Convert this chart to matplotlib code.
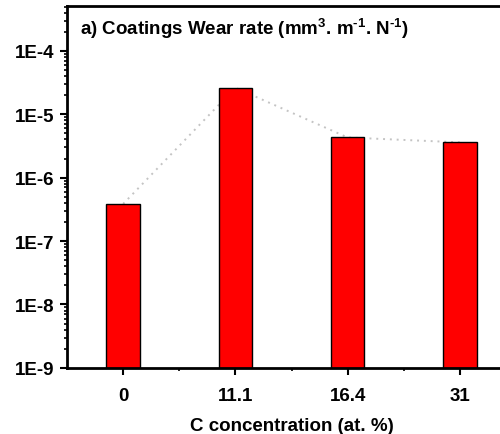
import matplotlib
matplotlib.use('Agg')
import matplotlib.pyplot as plt
from matplotlib.ticker import LogLocator, FixedLocator, NullFormatter

plt.rcParams['font.family'] = ['Liberation Sans', 'DejaVu Sans']
plt.rcParams['font.weight'] = 'bold'
plt.rcParams['mathtext.fontset'] = 'custom'
plt.rcParams['mathtext.rm'] = 'Liberation Sans:bold'
plt.rcParams['mathtext.bf'] = 'Liberation Sans:bold'

# wear rate of the coatings vs carbon content
conc_labels = ['0', '11.1', '16.4', '31']
wear_rate = [3.85e-7, 2.62e-5, 4.3e-6, 3.6e-6]

fig = plt.figure(figsize=(5, 4.35), dpi=100)
ax = fig.add_axes([0.134, 0.152, 0.898, 0.832])

pos = list(range(len(wear_rate)))
ax.plot(pos, wear_rate, linestyle=(0, (1, 2.5)), color='#c4c4c4', lw=1.4, zorder=1)
ax.bar(pos, wear_rate, width=0.3, color='#ff0000', edgecolor='black', lw=1.0, zorder=2)

ax.set_yscale('log')
ax.set_ylim(1e-9, 5.1e-4)
ax.set_xlim(-0.5, 3.5)

ax.set_xticks(pos)
ax.set_xticklabels(conc_labels)
ax.xaxis.set_minor_locator(FixedLocator([0.5, 1.5, 2.5]))
ax.yaxis.set_minor_locator(LogLocator(base=10, subs=range(2, 10), numticks=20))
ax.yaxis.set_minor_formatter(NullFormatter())
ax.set_yticks([1e-9, 1e-8, 1e-7, 1e-6, 1e-5, 1e-4])
ax.set_yticklabels(['1E-9', '1E-8', '1E-7', '1E-6', '1E-5', '1E-4'])

ax.tick_params(axis='both', which='major', direction='out', length=5, width=1.5,
               labelsize=13.5, pad=4)
ax.tick_params(axis='both', which='minor', direction='out', length=2.5, width=1.2)
ax.tick_params(axis='x', which='major', pad=9)

for side in ['left', 'bottom', 'top', 'right']:
    ax.spines[side].set_linewidth(2)

ax.set_xlabel('C concentration (at. %)', fontsize=13.5, fontweight='bold', labelpad=9)
ax.text(0.03, 0.975, r'a) Coatings Wear rate (mm$^{3}$. m$^{\text{-1}}$. N$^{\text{-1}}$)',
        transform=ax.transAxes, fontsize=13.5, fontweight='bold', va='top', ha='left')

fig.savefig('out.png', dpi=100)
